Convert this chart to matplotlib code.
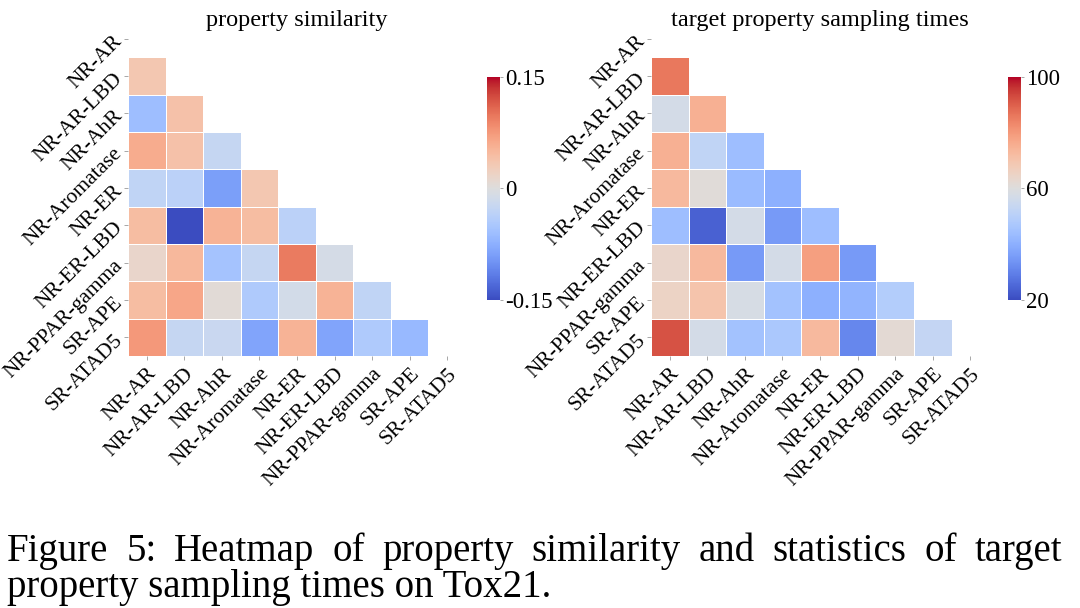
import numpy as np
import matplotlib
matplotlib.use('Agg')
import matplotlib.pyplot as plt

plt.rcParams['font.family'] = ['Liberation Serif', 'DejaVu Serif']

tasks = ['NR-AR', 'NR-AR-LBD', 'NR-AhR', 'NR-Aromatase', 'NR-ER', 'NR-ER-LBD',
         'NR-PPAR-gamma', 'SR-APE', 'SR-ATAD5']

# lower triangle, row i holds values for columns 0..i-1
similarity = [
    [],
    [0.035],
    [-0.06, 0.04],
    [0.06, 0.04, -0.025],
    [-0.03, -0.035, -0.09, 0.035],
    [0.045, -0.15, 0.055, 0.045, -0.035],
    [0.015, 0.05, -0.055, -0.025, 0.095, -0.01],
    [0.045, 0.065, 0.005, -0.045, -0.012, 0.055, -0.03],
    [0.075, -0.025, -0.022, -0.085, 0.055, -0.085, -0.045, -0.065],
]

sampling_times = [
    [],
    [86],
    [57, 75],
    [75, 52, 44],
    [73, 61, 43, 40],
    [44, 24, 57, 35, 44],
    [64, 73, 35, 57, 79, 35],
    [65, 70, 58, 45, 40, 41, 49],
    [92, 57, 45, 47, 73, 31, 62, 53],
]

caption_1 = 'Figure 5:  Heatmap of property similarity and statistics of target'
caption_2 = 'property sampling times on Tox21.'


def to_matrix(rows):
    n = len(rows)
    m = np.full((n, n), np.nan)
    for i, r in enumerate(rows):
        for j, v in enumerate(r):
            m[i, j] = v
    return np.ma.masked_invalid(m)


def draw(ax, cax, rows, vmin, vmax, ticks, ticklabels, title):
    m = to_matrix(rows)
    n = m.shape[0]
    mesh = ax.pcolormesh(np.arange(n + 1), np.arange(n + 1), m, cmap='coolwarm',
                         vmin=vmin, vmax=vmax, edgecolors='white', linewidth=0.6)
    ax.set_xlim(0, n)
    ax.set_ylim(n, 0)
    ax.set_xticks(np.arange(n) + 0.5)
    ax.set_yticks(np.arange(n) + 0.5)
    ax.set_xticklabels(tasks, rotation=45, ha='right', rotation_mode='anchor', fontsize=15.5)
    ax.set_yticklabels(tasks, rotation=45, ha='right', va='center', rotation_mode='anchor',
                       fontsize=15.5)
    ax.tick_params(length=3, width=0.6, color='#999999', pad=3)
    for s in ax.spines.values():
        s.set_visible(False)
    # title sits slightly inside the empty top row, as in the original
    pos = ax.get_position()
    fig.text((pos.x0 + pos.x1) / 2, (608 - 26) / 608, title, fontsize=17.5,
             ha='center', va='baseline')

    cb = plt.colorbar(mesh, cax=cax)
    cb.set_ticks(ticks)
    cb.set_ticklabels(ticklabels)
    cb.outline.set_visible(False)
    cax.tick_params(length=2, width=0.6, color='#999999', labelsize=16.5, pad=2)


fig = plt.figure(figsize=(10.8, 6.08), dpi=100)
ax1 = fig.add_axes([0.1185, 0.4145, 0.313, 0.5526])
cax1 = fig.add_axes([0.451, 0.5066, 0.012, 0.3668])
ax2 = fig.add_axes([0.6028, 0.4145, 0.313, 0.5526])
cax2 = fig.add_axes([0.9333, 0.5066, 0.012, 0.3668])

draw(ax1, cax1, similarity, -0.15, 0.15, [-0.15, 0, 0.15], ['-0.15', '0', '0.15'],
     'property similarity')
draw(ax2, cax2, sampling_times, 20, 100, [20, 60, 100], ['20', '60', '100'],
     'target property sampling times')

# justified first caption line
x0, x1 = 7 / 1080, 1062 / 1080
y1 = (608 - 561) / 608
words = caption_1.replace(':  ', ': ').split(' ')
renderer = fig.canvas.get_renderer()
texts = [fig.text(0, y1, w, fontsize=28, va='baseline', ha='left') for w in words]
widths = [t.get_window_extent(renderer).width / fig.bbox.width for t in texts]
gap = (x1 - x0 - sum(widths)) / (len(words) - 1)
x = x0
for t, w in zip(texts, widths):
    t.set_x(x)
    x += w + gap

fig.text(x0, (608 - 597) / 608, caption_2, fontsize=28, va='baseline', ha='left')

fig.savefig('out.png', dpi=100)
